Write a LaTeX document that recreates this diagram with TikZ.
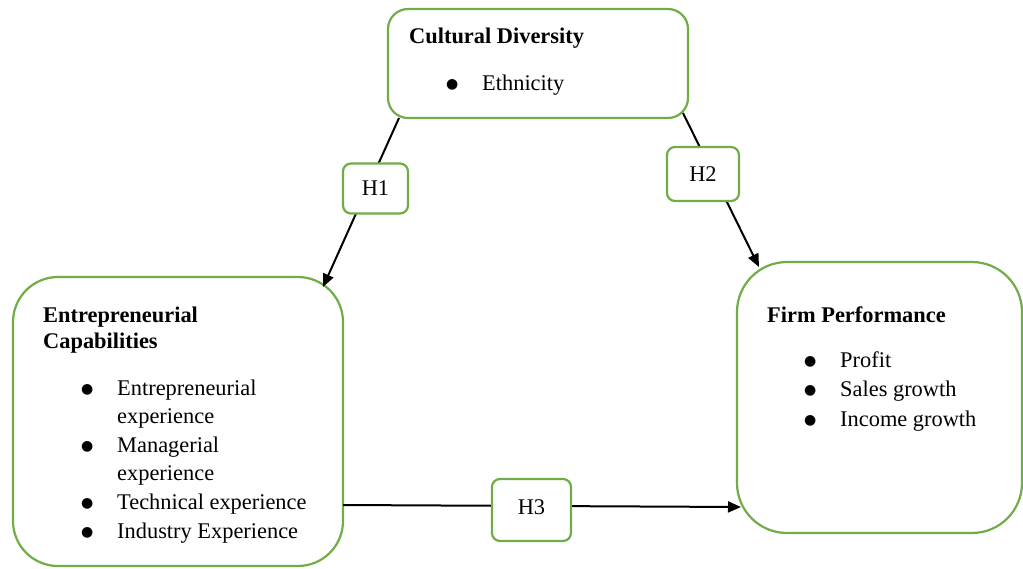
\documentclass[tikz,border=0pt]{standalone}
\usepackage{fontspec}
\setmainfont{Liberation Serif}
\newfontfamily\symfont{DejaVu Sans}
\usetikzlibrary{arrows.meta}
\definecolor{boxgreen}{RGB}{112,173,71}

\tikzset{
  box/.style={draw=boxgreen, line width=2.2pt, fill=white, inner sep=0pt, outer sep=0pt},
  hyp/.style={box, rounded corners=8pt, font=\fontsize{22.4}{26}\selectfont},
  title/.style={anchor=base west, inner sep=0pt, font=\bfseries\fontsize{22.4}{26.5}\selectfont},
  items/.style={anchor=base west, inner sep=0pt},
  link/.style={line width=2pt, -{Triangle[length=13pt,width=11pt]}}
}
\newcommand{\bul}{\raisebox{2pt}{\symfont\fontsize{14}{14}\selectfont ●}}

\begin{document}
\begin{tikzpicture}[x=1pt,y=-1pt]
        \useasboundingbox (0,0) rectangle (1023,568);

        % Construct boxes
        \node[box, rounded corners=20pt, minimum width=300pt, minimum height=109pt] (cd) at (538,63.5) {};
        \node[box, rounded corners=45pt, minimum width=330pt, minimum height=289pt] (ec) at (178,421.5) {};
        \node[box, rounded corners=50pt, minimum width=285pt, minimum height=271pt] (fp) at (879.5,397.5) {};

        % Cultural diversity text
        \node[title] (cdtitle) at (409,43) {Cultural Diversity};
        \node[items, font=\fontsize{22.4}{28.6}\selectfont] (cdlist) at (446,90)
            {\begin{tabular}[t]{@{}p{36pt}@{}l@{}}\bul & Ethnicity\end{tabular}};

        % Entrepreneurial capabilities text
        \node[title] (ectitle) at (43,322)
            {\begin{tabular}[t]{@{}l@{}}Entrepreneurial\\Capabilities\end{tabular}};
        \node[items, font=\fontsize{22.4}{28.6}\selectfont] (eclist) at (81,395)
            {\begin{tabular}[t]{@{}p{36pt}@{}l@{}}
              \bul & Entrepreneurial\\
                   & experience\\
              \bul & Managerial\\
                   & experience\\
              \bul & Technical experience\\
              \bul & Industry Experience
            \end{tabular}};

        % Firm performance text
        \node[title] (fptitle) at (767,322) {Firm Performance};
        \node[items, font=\fontsize{22.4}{29.5}\selectfont] (fplist) at (804,367)
            {\begin{tabular}[t]{@{}p{36pt}@{}l@{}}
              \bul & Profit\\
              \bul & Sales growth\\
              \bul & Income growth
            \end{tabular}};

        % Connector end points
        \coordinate (h1from) at ([xshift=11pt]cd.south west);
        \coordinate (h1to) at ([xshift=-20pt,yshift=-10pt]ec.north east);
        \coordinate (h2from) at ([xshift=-5pt,yshift=5pt]cd.south east);
        \coordinate (h2to) at ([xshift=22pt,yshift=-5pt]fp.north west);
        \coordinate (h3from) at ([yshift=61pt]ec.south east);
        \coordinate (h3to) at ([xshift=4pt,yshift=26pt]fp.south west);

        % Hypothesis arrows
        \draw[link] (h1from) -- (h1to);
        \draw[link] (h2from) -- (h2to);
        \draw[link] (h3from) -- (h3to);

        % Hypothesis labels
        \node[hyp, minimum width=65pt, minimum height=50pt] (h1) at (375.5,188.5) {H1};
        \node[hyp, minimum width=72pt, minimum height=54pt] (h2) at (703,174) {H2};
        \node[hyp, minimum width=79pt, minimum height=62pt] (h3) at (531.5,510) {\raisebox{6pt}{H3}};
    \end{tikzpicture}
\end{document}
